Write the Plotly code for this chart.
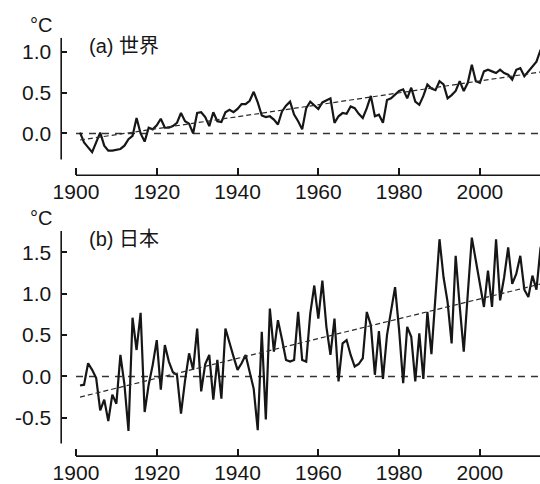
import plotly.graph_objects as go

years = list(range(1901, 2017))

world_anom = [
    0.01, -0.11, -0.17, -0.23, -0.11, 0.01, -0.15, -0.21, -0.21, -0.20,
    -0.19, -0.15, -0.07, -0.03, 0.19, 0.00, -0.10, 0.07, 0.05, 0.10,
    0.18, 0.07, 0.07, 0.09, 0.13, 0.25, 0.15, 0.12, 0.00, 0.25,
    0.26, 0.20, 0.09, 0.26, 0.15, 0.14, 0.26, 0.29, 0.26, 0.30,
    0.36, 0.36, 0.40, 0.51, 0.38, 0.22, 0.20, 0.21, 0.17, 0.11,
    0.27, 0.34, 0.39, 0.23, 0.15, 0.05, 0.31, 0.39, 0.34, 0.30,
    0.38, 0.41, 0.43, 0.13, 0.21, 0.25, 0.24, 0.33, 0.31, 0.24,
    0.19, 0.31, 0.46, 0.21, 0.23, 0.13, 0.41, 0.43, 0.48, 0.52,
    0.54, 0.43, 0.56, 0.39, 0.35, 0.46, 0.60, 0.55, 0.53, 0.64,
    0.60, 0.43, 0.47, 0.52, 0.64, 0.52, 0.62, 0.84, 0.64, 0.62,
    0.76, 0.78, 0.76, 0.74, 0.78, 0.74, 0.72, 0.66, 0.78, 0.80,
    0.70, 0.76, 0.82, 0.88, 1.02, 1.06,
]

japan_anom = [
    -0.11, -0.10, 0.16, 0.08, -0.02, -0.41, -0.28, -0.54, -0.22, -0.33,
    0.26, -0.10, -0.66, 0.71, 0.32, 0.77, -0.43, -0.10, 0.14, 0.44,
    -0.16, 0.38, 0.18, 0.05, 0.02, -0.45, -0.05, 0.28, 0.08, 0.58,
    -0.18, 0.15, 0.26, -0.28, 0.20, -0.27, 0.58, 0.40, 0.24, 0.08,
    0.16, 0.26, 0.05, -0.15, -0.65, 0.54, -0.52, 0.82, 0.30, 0.68,
    0.45, 0.20, 0.18, 0.20, 0.78, 0.20, 0.18, 0.76, 1.10, 0.70,
    1.16, 0.60, 0.26, 0.70, -0.06, 0.40, 0.44, 0.26, 0.12, 0.15,
    0.22, 0.78, 0.62, 0.02, 0.55, -0.03, 0.50, 0.78, 1.08, 0.56,
    -0.08, 0.60, 0.48, -0.06, 0.52, -0.03, 0.78, 0.27, 0.95, 1.66,
    1.20, 0.90, 0.40, 1.46, 0.85, 0.30, 1.00, 1.68, 1.40, 1.10,
    0.84, 1.28, 0.84, 1.66, 0.92, 1.20, 1.56, 1.12, 1.24, 1.46,
    1.05, 0.96, 1.22, 1.05, 1.55, 1.73,
]

trend_years = [1901, 2016]
world_trend = [-0.08, 0.76]
japan_trend = [-0.25, 1.13]

x_ticks = [1900, 1920, 1940, 1960, 1980, 2000]
world_yticks = [0.0, 0.5, 1.0]
world_ylabels = ["0.0", "0.5", "1.0"]
japan_yticks = [-0.5, 0.0, 0.5, 1.0, 1.5]
japan_ylabels = ["-0.5", "0.0", "0.5", "1.0", "1.5"]

panel_titles = ["(a) 世界", "(b) 日本"]
unit = "°C"

W, H = 540, 484
INK = "#161616"
FONT = "Liberation Sans, Arial, Noto Sans CJK JP, sans-serif"

fig = go.Figure()

fig.add_trace(go.Scatter(x=years, y=world_anom, mode="lines",
                         line=dict(color=INK, width=2.2), xaxis="x", yaxis="y"))
fig.add_trace(go.Scatter(x=trend_years, y=world_trend, mode="lines",
                         line=dict(color="#2a2a2a", width=1.2, dash="5px,3px"),
                         xaxis="x", yaxis="y"))
fig.add_trace(go.Scatter(x=years, y=japan_anom, mode="lines",
                         line=dict(color=INK, width=2.2), xaxis="x2", yaxis="y2"))
fig.add_trace(go.Scatter(x=trend_years, y=japan_trend, mode="lines",
                         line=dict(color="#2a2a2a", width=1.2, dash="5px,3px"),
                         xaxis="x2", yaxis="y2"))

x_dom = [54 / W, 1.0]
x_rng = [1900 + (54 - 69) / 4.1, 1900 + (540 - 69) / 4.1]

def xax(anchor):
    return dict(domain=x_dom, range=x_rng, anchor=anchor, tickmode="array",
                tickvals=x_ticks, ticks="inside", ticklen=7, tickwidth=1.6,
                tickcolor=INK, showline=False, showgrid=False, zeroline=False,
                ticklabelstandoff=2,
                tickfont=dict(size=21, color=INK, family=FONT))

def yax(anchor, dom, rng, tv, tt):
    return dict(domain=dom, range=rng, anchor=anchor, tickmode="array",
                tickvals=tv, ticktext=tt, ticks="inside", ticklen=6,
                tickwidth=1.6, tickcolor=INK, showline=False, showgrid=False,
                zeroline=False, ticklabelstandoff=9,
                tickfont=dict(size=21, color=INK, family=FONT))

fig.update_layout(
    width=W, height=H,
    margin=dict(l=0, r=0, t=0, b=0),
    paper_bgcolor="white", plot_bgcolor="white",
    showlegend=False,
    xaxis=xax("y"),
    yaxis=yax("x", [1 - 176 / H, 1 - 38 / H], [(134 - 176) / 82, (134 - 38) / 82],
              world_yticks, world_ylabels),
    xaxis2=xax("y2"),
    yaxis2=yax("x2", [1 - 458 / H, 1 - 232 / H], [(378 - 458) / 83, (378 - 232) / 83],
               japan_yticks, japan_ylabels),
)

shapes = []
for xr, yr, ybot, ytop in [("x", "y", -0.32, 1.171), ("x2", "y2", -0.81, 1.759)]:
    shapes.append(dict(type="line", xref=f"{xr} domain", yref=yr, x0=0, x1=0,
                       y0=ybot, y1=ytop, line=dict(color=INK, width=1.6)))
    shapes.append(dict(type="line", xref=xr, yref=f"{yr} domain", x0=1900, x1=2020,
                       y0=0, y1=0, line=dict(color=INK, width=1.6)))
    shapes.append(dict(type="line", xref=xr, yref=yr, x0=1900, x1=2020,
                       y0=0, y1=0, line=dict(color="#333333", width=1.5, dash="7px,6px"),
                       layer="below"))
fig.update_layout(shapes=shapes)

ann = []
for i, top_px in enumerate([38, 232]):
    ann.append(dict(text=unit, xref="paper", yref="paper", x=34 / W,
                    y=1 - (top_px - 13) / H, xanchor="center", yanchor="middle",
                    showarrow=False, font=dict(size=20, color=INK, family=FONT)))
    ann.append(dict(text=panel_titles[i], xref="paper", yref="paper", x=80 / W,
                    y=1 - (top_px + 8) / H, xanchor="left", yanchor="middle",
                    showarrow=False, font=dict(size=20, color=INK, family=FONT)))
fig.update_layout(annotations=ann)

fig.write_html("out.html")
